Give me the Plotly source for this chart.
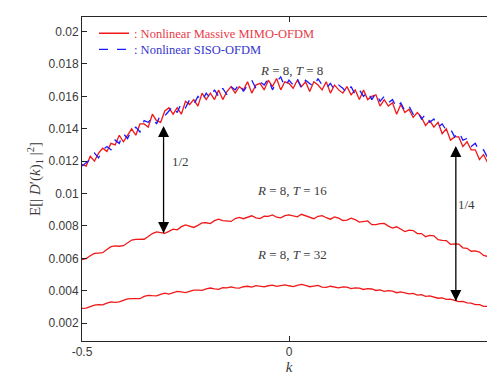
import plotly.graph_objects as go

k = [-0.50, -0.49, -0.48, -0.47, -0.46, -0.45, -0.44, -0.43, -0.42, -0.41,
     -0.40, -0.39, -0.38, -0.37, -0.36, -0.35, -0.34, -0.33, -0.32, -0.31,
     -0.30, -0.29, -0.28, -0.27, -0.26, -0.25, -0.24, -0.23, -0.22, -0.21,
     -0.20, -0.19, -0.18, -0.17, -0.16, -0.15, -0.14, -0.13, -0.12, -0.11,
     -0.10, -0.09, -0.08, -0.07, -0.06, -0.05, -0.04, -0.03, -0.02, -0.01,
     0.00, 0.01, 0.02, 0.03, 0.04, 0.05, 0.06, 0.07, 0.08, 0.09,
     0.10, 0.11, 0.12, 0.13, 0.14, 0.15, 0.16, 0.17, 0.18, 0.19,
     0.20, 0.21, 0.22, 0.23, 0.24, 0.25, 0.26, 0.27, 0.28, 0.29,
     0.30, 0.31, 0.32, 0.33, 0.34, 0.35, 0.36, 0.37, 0.38, 0.39,
     0.40, 0.41, 0.42, 0.43, 0.44, 0.45, 0.46, 0.47, 0.48, 0.49, 0.50]

# values in units of 1e-4
mimo_t8 = [118, 117, 123, 120, 125, 128, 126, 131, 130, 136,
           132, 136, 140, 136, 143, 143, 141, 149, 145, 144,
           151, 153, 149, 153, 149, 157, 155, 158, 154, 162,
           158, 162, 158, 164, 158, 163, 166, 162, 166, 164,
           169, 162, 167, 168, 164, 170, 166, 171, 164, 169,
           168, 165, 170, 166, 169, 163, 169, 167, 164, 169,
           162, 167, 164, 162, 166, 161, 164, 158, 164, 158,
           160, 161, 154, 158, 154, 156, 149, 155, 150, 152,
           147, 150, 147, 142, 145, 141, 144, 137, 140, 133,
           135, 135, 129, 132, 127, 127, 121, 124, 119, 120, 116]

siso_t8 = [117, 119, 121, 125, 122, 127, 129, 127, 133, 131,
           137, 134, 139, 141, 138, 145, 144, 147, 143, 149,
           148, 151, 154, 150, 156, 153, 158, 155, 160, 157,
           162, 159, 164, 160, 165, 161, 166, 164, 168, 163,
           167, 170, 165, 169, 167, 171, 164, 169, 172, 166,
           170, 167, 171, 165, 170, 168, 166, 171, 167, 165,
           168, 164, 167, 165, 162, 166, 161, 164, 160, 163,
           158, 162, 157, 160, 156, 158, 153, 156, 151, 154,
           149, 151, 146, 149, 144, 146, 141, 143, 139, 140,
           135, 138, 133, 134, 129, 131, 126, 127, 122, 121, 117]

mimo_t16 = [59.3, 59.9, 61.6, 63.1, 63.3, 63.5, 65.5, 67.2, 67.7, 67.5,
            67.8, 69.7, 71.3, 71.7, 71.6, 71.8, 73.5, 75.3, 76.4, 75.9,
            75.5, 76.7, 78.1, 77.6, 79.6, 80.7, 80.0, 79.1, 80.4, 81.9,
            82.0, 81.5, 83.3, 84.2, 83.3, 82.9, 82.8, 84.6, 85.3, 84.5,
            85.5, 86.3, 85.0, 84.6, 86.1, 85.9, 86.8, 85.4, 85.0, 86.4,
            86.8, 86.3, 85.6, 87.2, 86.4, 85.5, 84.5, 86.0, 86.4, 85.1,
            84.2, 85.6, 84.8, 83.4, 83.6, 84.8, 83.9, 82.4, 82.7, 83.1,
            80.8, 80.8, 81.4, 81.6, 79.9, 78.7, 79.5, 77.9, 76.5, 77.4,
            77.2, 75.3, 75.3, 73.4, 74.2, 73.9, 71.5, 71.1, 71.0, 68.7,
            69.0, 68.8, 66.5, 66.2, 64.4, 64.6, 63.9, 61.8, 61.2, 59.5, 59.2]

mimo_t32 = [29.2, 29.3, 30.2, 31.1, 31.5, 31.3, 32.4, 33.2, 32.9, 33.1,
            34.1, 35.0, 35.1, 35.0, 35.1, 36.5, 37.2, 37.0, 36.9, 37.8,
            38.6, 38.0, 38.9, 39.6, 39.3, 38.9, 39.6, 40.4, 40.4, 40.2,
            41.2, 41.7, 41.2, 40.9, 41.9, 41.8, 42.4, 41.8, 41.7, 42.5,
            42.8, 42.3, 43.2, 43.0, 42.4, 43.1, 43.5, 42.7, 43.2, 43.7,
            43.1, 42.6, 43.4, 43.9, 43.3, 42.5, 42.9, 43.3, 42.3, 42.1,
            42.8, 42.5, 41.8, 42.4, 42.3, 41.3, 41.8, 41.7, 40.8, 41.3,
            41.1, 40.2, 40.6, 39.7, 40.1, 39.8, 38.8, 39.3, 38.9, 38.1,
            38.4, 37.3, 37.6, 36.6, 36.9, 36.3, 35.4, 35.6, 34.7, 34.9,
            34.3, 33.3, 33.4, 32.5, 32.4, 31.5, 31.4, 30.4, 30.3, 29.7, 29.1]

# double-arrow endpoints (k, value) showing the ratios
arrow_half_k = [-0.303, -0.303]
arrow_half_v = [0.00757, 0.01417]
arrow_quarter_k = [0.403, 0.403]
arrow_quarter_v = [0.00337, 0.01294]

y_ticks = [0.002, 0.004, 0.006, 0.008, 0.010, 0.012, 0.014, 0.016, 0.018, 0.020]
y_tick_labels = ["0.002", "0.004", "0.006", "0.008", "0.01", "0.012", "0.014", "0.016", "0.018", "0.02"]
x_ticks = [-0.5, 0, 0.5]
x_tick_labels = ["-0.5", "0", "0.5"]

scale = 1e-4
RED = "#f01818"
BLUE = "#1a1aff"
AX = "#262626"
TXT = "#3a3a3a"
SERIF = "Liberation Serif, Times New Roman, serif"

fig = go.Figure()
fig.add_trace(go.Scatter(
    x=k, y=[v * scale for v in mimo_t8], mode="lines",
    line=dict(color=RED, width=1.3), legend="legend",
    name=": Nonlinear Massive MIMO-OFDM"))
fig.add_trace(go.Scatter(
    x=k, y=[v * scale for v in siso_t8], mode="lines",
    line=dict(color=BLUE, width=1.3, dash="dash"), legend="legend2",
    name=": Nonlinear SISO-OFDM"))
fig.add_trace(go.Scatter(
    x=k, y=[v * scale for v in mimo_t16], mode="lines",
    line=dict(color=RED, width=1.3), showlegend=False))
fig.add_trace(go.Scatter(
    x=k, y=[v * scale for v in mimo_t32], mode="lines",
    line=dict(color=RED, width=1.3), showlegend=False))

for ak, av in ((arrow_half_k, arrow_half_v), (arrow_quarter_k, arrow_quarter_v)):
    fig.add_trace(go.Scatter(
        x=ak, y=av, mode="lines+markers", showlegend=False, hoverinfo="skip",
        line=dict(color="black", width=1.3),
        marker=dict(symbol=["arrow-down", "arrow-up"], size=11, color="black",
                    line=dict(width=0))))

ann_font = dict(family=SERIF, size=13, color=TXT)
fig.add_annotation(x=0.005, y=0.01757, text="<i>R</i> = 8, <i>T</i> = 8", showarrow=False, font=ann_font)
fig.add_annotation(x=0.008, y=0.01016, text="<i>R</i> = 8, <i>T</i> = 16", showarrow=False, font=ann_font)
fig.add_annotation(x=0.008, y=0.00621, text="<i>R</i> = 8, <i>T</i> = 32", showarrow=False, font=ann_font)
fig.add_annotation(x=-0.262, y=0.0120, text="1/2", showarrow=False, font=ann_font)
fig.add_annotation(x=0.428, y=0.0093, text="1/4", showarrow=False, font=ann_font)

leg_common = dict(xanchor="left", yanchor="top", bgcolor="rgba(255,255,255,0)",
                  borderwidth=0, tracegroupgap=0)
fig.update_layout(
    width=495, height=374,
    margin=dict(l=74, r=7, t=9, b=41),
    paper_bgcolor="white", plot_bgcolor="white",
    showlegend=True,
    legend=dict(x=0.029, y=0.995, font=dict(family=SERIF, size=12.5, color="#e83a48"), **leg_common),
    legend2=dict(x=0.029, y=0.945, font=dict(family=SERIF, size=12.5, color="#3434d0"), **leg_common),
    font=dict(family="Liberation Sans, Arial, sans-serif", size=12, color=TXT),
)
fig.update_xaxes(range=[-0.5, 0.5], tickvals=x_ticks, ticktext=x_tick_labels,
                 showline=True, linecolor=AX, linewidth=1, mirror="ticks",
                 ticks="inside", ticklen=5, tickcolor=AX, showgrid=False, zeroline=False,
                 title=dict(text="<i>k</i>", font=dict(family=SERIF, size=15, color=TXT), standoff=2))
fig.update_yaxes(range=[0.0009, 0.0209], tickvals=y_ticks, ticktext=y_tick_labels,
                 showline=True, linecolor=AX, linewidth=1, mirror="ticks",
                 ticks="inside", ticklen=5, tickcolor=AX, showgrid=False, zeroline=False,
                 title=dict(text="E[| <i>D</i>′(<i>k</i>)<sub>1</sub> |<sup>2</sup>]",
                            font=dict(family=SERIF, size=15, color=TXT), standoff=4))

fig.write_html("out.html")
